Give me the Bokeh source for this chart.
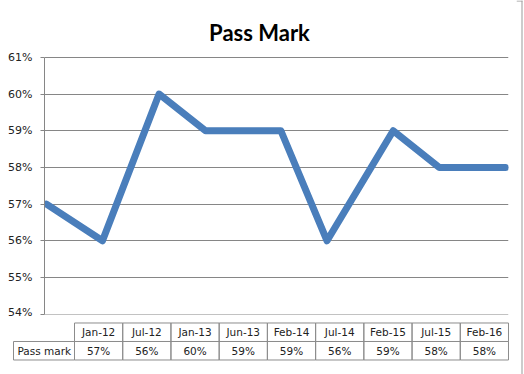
from datetime import datetime, timedelta

from bokeh.plotting import figure
from bokeh.layouts import row, column
from bokeh.models import Range1d, NumeralTickFormatter, FixedTicker
from bokeh.core.properties import value
from bokeh.embed import file_html
from bokeh.resources import INLINE

# ---------------- data ----------------
chart_title = "Pass Mark"
series_name = "Pass mark"
categories = ["Jan-12", "Jul-12", "Jan-13", "Jun-13", "Feb-14",
              "Jul-14", "Feb-15", "Jul-15", "Feb-16"]
dates = [datetime(2012, 1, 1), datetime(2012, 7, 1), datetime(2013, 1, 1),
         datetime(2013, 6, 1), datetime(2014, 2, 1), datetime(2014, 7, 1),
         datetime(2015, 2, 1), datetime(2015, 7, 1), datetime(2016, 2, 1)]
pass_mark = [0.57, 0.56, 0.60, 0.59, 0.59, 0.56, 0.59, 0.58, 0.58]
y_ticks = [0.54, 0.55, 0.56, 0.57, 0.58, 0.59, 0.60, 0.61]

# ---------------- styles ----------------
LINE_BLUE = "#4A7EBB"
GRID_GRAY = "#868686"
TABLE_GRAY = "#8C8C8C"
BORDER_GRAY = "#9A9A9A"
TEXT = "#222222"
FONT = "DejaVu Sans"


def bare(fig):
    fig.outline_line_color = None
    fig.background_fill_color = "white"
    fig.border_fill_color = "white"
    return fig


# ---------------- top border strip ----------------
top_strip = figure(width=516, height=1, output_backend="svg",
                   toolbar_location=None, min_border=0, frame_align=False,
                   x_range=Range1d(0, 1), y_range=Range1d(0, 1))
top_strip.axis.visible = False
top_strip.grid.visible = False
top_strip.outline_line_color = None
top_strip.background_fill_color = BORDER_GRAY
top_strip.border_fill_color = BORDER_GRAY

# ---------------- chart ----------------
x_start = dates[0] - timedelta(days=6.5)
x_end = dates[-1] + timedelta(days=9.9)

p = bare(figure(width=516, height=317,
                x_axis_type="datetime",
                x_range=Range1d(x_start, x_end),
                y_range=Range1d(0.5399, 0.62525),
                output_backend="svg", toolbar_location=None,
                frame_align=False,
                min_border_left=44, min_border_right=8,
                min_border_top=0, min_border_bottom=4))

p.xaxis.visible = False
p.xgrid.visible = False

p.yaxis.ticker = FixedTicker(ticks=y_ticks)
p.yaxis.bounds = (y_ticks[0], y_ticks[-1])
p.yaxis.formatter = NumeralTickFormatter(format="0%")
p.yaxis.axis_line_color = GRID_GRAY
p.yaxis.major_tick_line_color = GRID_GRAY
p.yaxis.major_tick_in = 0
p.yaxis.major_tick_out = 4
p.yaxis.minor_tick_line_color = None
p.yaxis.major_label_standoff = 8
p.yaxis.major_label_text_font = FONT
p.yaxis.major_label_text_font_size = "11px"
p.yaxis.major_label_text_color = TEXT

p.ygrid.ticker = FixedTicker(ticks=y_ticks)
p.ygrid.grid_line_color = GRID_GRAY
p.ygrid.grid_line_width = 1

p.line(dates, pass_mark, line_color=LINE_BLUE, line_width=7,
       line_join="round", line_cap="round")

# title, placed through a pixel-like helper range
p.extra_x_ranges = {"px": Range1d(44, 508)}
p.extra_y_ranges = {"px": Range1d(314, 1)}
p.text(x=[259], y=[32], text=[chart_title], x_range_name="px",
       y_range_name="px", text_align="center", text_baseline="alphabetic",
       text_font=value("Lato"), text_font_style="bold",
       text_font_size="22px", text_color="#000000")

# ---------------- data table ----------------
n = len(categories)
col_px = 48.222
t = bare(figure(width=516, height=56, output_backend="svg",
                toolbar_location=None, min_border=0, frame_align=False,
                x_range=Range1d(-74 / col_px, (516 - 74) / col_px),
                y_range=Range1d(2.784, -0.243)))
t.axis.visible = False
t.grid.visible = False

idx = list(range(n))
t.quad(left=idx, right=[i + 1 for i in idx], top=[0] * n, bottom=[1] * n,
       fill_color=None, line_color=TABLE_GRAY, line_width=1)
t.quad(left=[-61 / col_px] + idx, right=[0] + [i + 1 for i in idx],
       top=[1] * (n + 1), bottom=[2] * (n + 1),
       fill_color=None, line_color=TABLE_GRAY, line_width=1)
t.text(x=[i + 0.5 for i in idx], y=[0.5] * n, text=categories,
       text_align="center", text_baseline="middle", text_font=value(FONT),
       text_font_size="10.5px", text_color=TEXT)
t.text(x=[i + 0.5 for i in idx], y=[1.5] * n,
       text=[f"{v:.0%}" for v in pass_mark],
       text_align="center", text_baseline="middle", text_font=value(FONT),
       text_font_size="10.5px", text_color=TEXT)
t.text(x=[-57 / col_px], y=[1.5], text=[series_name], text_align="left",
       text_baseline="middle", text_font=value(FONT),
       text_font_size="10.5px", text_color=TEXT)

# ---------------- right border strip ----------------
r = bare(figure(width=8, height=374, output_backend="svg",
                toolbar_location=None, min_border=0, frame_align=False,
                x_range=Range1d(0, 8), y_range=Range1d(374, 0)))
r.axis.visible = False
r.grid.visible = False
r.quad(left=[5, 0], right=[6, 6], top=[0, 0], bottom=[374, 1],
       fill_color=BORDER_GRAY, line_color=None)

layout = row(column(top_strip, p, t, spacing=0), r, spacing=0)

open("out.html", "w").write(file_html(layout, INLINE))
